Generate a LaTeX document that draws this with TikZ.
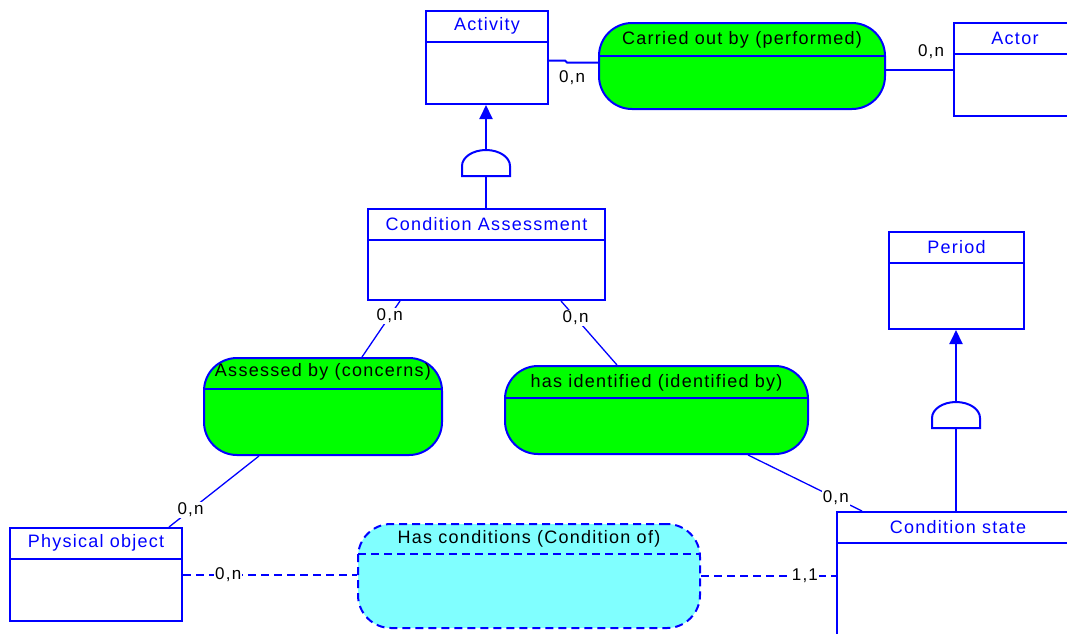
\documentclass[tikz,border=0pt]{standalone}
\usepackage{fontspec}
\setmainfont{Liberation Sans}[LetterSpace=7]
\usetikzlibrary{calc,arrows.meta}
\definecolor{ermblue}{RGB}{0,0,255}
\definecolor{relgreen}{RGB}{0,255,0}
\definecolor{relcyan}{RGB}{128,255,255}
\tikzset{
	box/.style={draw=ermblue, line width=2pt, fill=white, inner sep=0pt, anchor=north west},
	sep/.style={draw=ermblue, line width=2pt},
	boxtitle/.style={text=ermblue, inner sep=0pt, font=\fontsize{18}{21}\selectfont},
	rel/.style={draw=ermblue, line width=2pt, rounded corners=33pt, inner sep=0pt, anchor=north west},
	greenrel/.style={fill=relgreen},
	cyanrel/.style={fill=relcyan, dash pattern=on 8pt off 5pt},
	reltitle/.style={text=black, inner sep=0pt, font=\fontsize{18}{21}\selectfont},
	link/.style={draw=ermblue, line width=2pt},
	thinlink/.style={draw=ermblue, line width=1.3pt},
	dashlink/.style={draw=ermblue, line width=2pt, dash pattern=on 8pt off 5pt},
	isaarrow/.style={draw=ermblue, line width=2pt, -{Triangle[width=13pt,length=14pt]}},
	card/.style={fill=white, text=black, inner sep=1pt, font=\fontsize{17}{20}\selectfont},
}
\def\entity(#1)(#2,#3)(#4,#5)#6{%
	\node[box, minimum width=#4pt, minimum height=#5pt] (#1) at (#2,#3) {};
	\draw[sep] ([yshift=-32pt]#1.north west) -- ([yshift=-32pt]#1.north east);
	\node[boxtitle] (#1-title) at ([yshift=-16pt]#1.north) {#6};
}
\def\relation(#1)(#2,#3)(#4,#5)[#6]#7#8#9{%
	\node[rel, #6, minimum width=#4pt, minimum height=#5pt,
		path picture={\draw[sep, #6] ([yshift=-#7pt]path picture bounding box.north west) -- ([yshift=-#7pt]path picture bounding box.north east);}] (#1) at (#2,#3) {};
	\node[reltitle] (#1-title) at ([yshift=-#8pt]#1.north) {#9};
}
\def\isa(#1)(#2,#3){%
	\coordinate (#1) at (#2,#3);
	\coordinate (#1-top) at (#2,#3-26);
	\draw[sep, fill=white] ($(#1)+(-24,0)$) -- ++(0,-10) arc[start angle=180, end angle=360, x radius=24, y radius=16] -- ++(0,10) -- cycle;
}

\begin{document}
\begin{tikzpicture}[x=1pt, y=-1pt]
			%%%%% START %%%%%
			\useasboundingbox (0,0) rectangle (1067,633);
			
			\entity(act)(425,10)(122,93){Activity}
			\entity(actor)(953,22)(122,93){Actor}
			\entity(ca)(367,208)(237,91){Condition Assessment}
			\entity(period)(888,231)(135,97){Period}
			\entity(phys)(9,527)(172,93){Physical object}
			\entity(cs)(836,511)(242,140){Condition state}
			
			\relation(carried)(598,22)(286,86)[greenrel]{33}{18}{Carried out by (performed)}
			\relation(assessed)(203,357)(238,97)[greenrel]{31}{15}{Assessed by (concerns)}
			\relation(hasid)(504,365)(303,88)[greenrel]{32}{18}{has identified (identified by)}
			\relation(hascond)(357,523)(342,104)[cyanrel]{30}{16}{Has conditions (Condition of)}
			
			\isa(isa1)(486,176)
			\isa(isa2)(956,428)
			
			\draw[isaarrow] (isa1-top) -- (isa1-top |- act.south);
			\draw[link] (ca.north -| isa1) -- (isa1);
			\draw[isaarrow] (isa2-top) -- (isa2-top |- period.south);
			\draw[link] (cs.north -| isa2) -- (isa2);
			
			\draw[link] ([yshift=-3pt]act.east) -- ++(16,0) -- ++(2,2) coordinate (jog) -- (jog -| carried.west);
			\node[card] (card1) at ($(act.east)+(23,20)$) {0,n};
			\draw[link] (actor.west) -- (actor.west -| carried.east);
			\node[card] (card2) at ($(actor.west)+(-22,-18)$) {0,n};
			
			\draw[thinlink] ([xshift=33pt]ca.south west) -- node[card, pos=0.27] (card3) {0,n} ([xshift=159pt]assessed.north west);
			\draw[thinlink] ([xshift=-45pt]ca.south east) -- node[card, pos=0.26] (card4) {0,n} ([xshift=113pt]hasid.north west);
			\draw[thinlink] ([xshift=56pt]assessed.south west) -- node[card, pos=0.76] (card5) {0,n} ([xshift=160pt]phys.north west);
			\draw[thinlink] ([xshift=244pt]hasid.south west) -- node[card, pos=0.77] (card6) {0,n} ([xshift=26pt]cs.north west);
			
			\draw[dashlink] (phys.east) -- node[card, pos=0.26] (card7) {0,n} (phys.east -| hascond.west);
			\draw[dashlink] (hascond.east) -- node[card, pos=0.77] (card8) {1,1} (hascond.east -| cs.west);
			
			%%%%% END %%%%%
\end{tikzpicture}
\end{document}
